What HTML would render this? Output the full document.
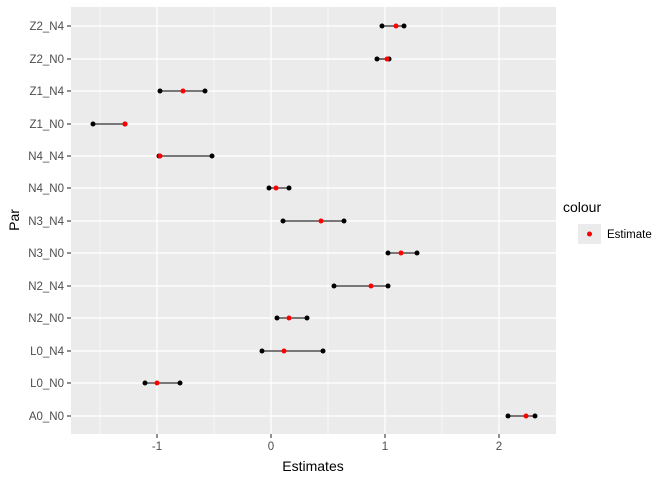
<!DOCTYPE html>
<html><head><style>body{margin:0;background:#fff}svg{display:block}text{font-family:"Liberation Sans",sans-serif}</style></head><body>
<svg width="672" height="480" xmlns="http://www.w3.org/2000/svg">
<rect x="71" y="7" width="485" height="427" fill="#ebebeb"/>
<g stroke="#fff" stroke-width="0.6">
<line x1="100" y1="7" x2="100" y2="434"/><line x1="214" y1="7" x2="214" y2="434"/><line x1="328" y1="7" x2="328" y2="434"/><line x1="442" y1="7" x2="442" y2="434"/>
</g>
<g stroke="#fff" stroke-width="1.2">
<line x1="157" y1="7" x2="157" y2="434"/><line x1="271" y1="7" x2="271" y2="434"/><line x1="385" y1="7" x2="385" y2="434"/><line x1="499" y1="7" x2="499" y2="434"/>
<line x1="71" y1="26" x2="556" y2="26"/><line x1="71" y1="59" x2="556" y2="59"/><line x1="71" y1="91" x2="556" y2="91"/><line x1="71" y1="124" x2="556" y2="124"/><line x1="71" y1="156" x2="556" y2="156"/><line x1="71" y1="188" x2="556" y2="188"/><line x1="71" y1="221" x2="556" y2="221"/><line x1="71" y1="253" x2="556" y2="253"/><line x1="71" y1="286" x2="556" y2="286"/><line x1="71" y1="318" x2="556" y2="318"/><line x1="71" y1="351" x2="556" y2="351"/><line x1="71" y1="383" x2="556" y2="383"/><line x1="71" y1="416" x2="556" y2="416"/>
</g>
<g stroke="#000" stroke-width="1.1">
<line x1="382" y1="26" x2="404" y2="26"/><line x1="377" y1="59" x2="389" y2="59"/><line x1="160" y1="91" x2="205" y2="91"/><line x1="93" y1="124" x2="125" y2="124"/><line x1="159" y1="156" x2="212" y2="156"/><line x1="269" y1="188" x2="289" y2="188"/><line x1="283" y1="221" x2="344" y2="221"/><line x1="388" y1="253" x2="417" y2="253"/><line x1="334" y1="286" x2="388" y2="286"/><line x1="277" y1="318" x2="307" y2="318"/><line x1="262" y1="351" x2="323" y2="351"/><line x1="145" y1="383" x2="180" y2="383"/><line x1="508" y1="416" x2="535" y2="416"/>
</g>
<g fill="#000">
<circle cx="382" cy="26" r="2.5"/><circle cx="404" cy="26" r="2.5"/><circle cx="377" cy="59" r="2.5"/><circle cx="389" cy="59" r="2.5"/><circle cx="160" cy="91" r="2.5"/><circle cx="205" cy="91" r="2.5"/><circle cx="93" cy="124" r="2.5"/><circle cx="125" cy="124" r="2.5"/><circle cx="159" cy="156" r="2.5"/><circle cx="212" cy="156" r="2.5"/><circle cx="269" cy="188" r="2.5"/><circle cx="289" cy="188" r="2.5"/><circle cx="283" cy="221" r="2.5"/><circle cx="344" cy="221" r="2.5"/><circle cx="388" cy="253" r="2.5"/><circle cx="417" cy="253" r="2.5"/><circle cx="334" cy="286" r="2.5"/><circle cx="388" cy="286" r="2.5"/><circle cx="277" cy="318" r="2.5"/><circle cx="307" cy="318" r="2.5"/><circle cx="262" cy="351" r="2.5"/><circle cx="323" cy="351" r="2.5"/><circle cx="145" cy="383" r="2.5"/><circle cx="180" cy="383" r="2.5"/><circle cx="508" cy="416" r="2.5"/><circle cx="535" cy="416" r="2.5"/>
</g>
<g fill="#f00">
<circle cx="396" cy="26" r="2.5"/><circle cx="387" cy="59" r="2.5"/><circle cx="183" cy="91" r="2.5"/><circle cx="125" cy="124" r="2.5"/><circle cx="160" cy="156" r="2.5"/><circle cx="276" cy="188" r="2.5"/><circle cx="321" cy="221" r="2.5"/><circle cx="401" cy="253" r="2.5"/><circle cx="371" cy="286" r="2.5"/><circle cx="289" cy="318" r="2.5"/><circle cx="284" cy="351" r="2.5"/><circle cx="157" cy="383" r="2.5"/><circle cx="526" cy="416" r="2.5"/>
</g>
<g stroke="#333" stroke-width="1.1">
<line x1="67" y1="26" x2="71" y2="26"/><line x1="67" y1="59" x2="71" y2="59"/><line x1="67" y1="91" x2="71" y2="91"/><line x1="67" y1="124" x2="71" y2="124"/><line x1="67" y1="156" x2="71" y2="156"/><line x1="67" y1="188" x2="71" y2="188"/><line x1="67" y1="221" x2="71" y2="221"/><line x1="67" y1="253" x2="71" y2="253"/><line x1="67" y1="286" x2="71" y2="286"/><line x1="67" y1="318" x2="71" y2="318"/><line x1="67" y1="351" x2="71" y2="351"/><line x1="67" y1="383" x2="71" y2="383"/><line x1="67" y1="416" x2="71" y2="416"/>
<line x1="157" y1="434" x2="157" y2="438"/><line x1="271" y1="434" x2="271" y2="438"/><line x1="385" y1="434" x2="385" y2="438"/><line x1="499" y1="434" x2="499" y2="438"/>
</g>
<g font-size="11.5" fill="#4d4d4d" text-anchor="end">
<text x="64" y="30">Z2_N4</text><text x="64" y="63">Z2_N0</text><text x="64" y="95">Z1_N4</text><text x="64" y="128">Z1_N0</text><text x="64" y="160">N4_N4</text><text x="64" y="192">N4_N0</text><text x="64" y="225">N3_N4</text><text x="64" y="257">N3_N0</text><text x="64" y="290">N2_N4</text><text x="64" y="322">N2_N0</text><text x="64" y="355">L0_N4</text><text x="64" y="387">L0_N0</text><text x="64" y="420">A0_N0</text>
</g>
<g font-size="11.5" fill="#4d4d4d" text-anchor="middle">
<text x="157" y="450">-1</text><text x="271" y="450">0</text><text x="385" y="450">1</text><text x="499" y="450">2</text>
</g>
<text x="313" y="471" font-size="14" text-anchor="middle">Estimates</text>
<text transform="translate(19,220) rotate(-90)" font-size="14" text-anchor="middle">Par</text>
<text x="563" y="212" font-size="14">colour</text>
<rect x="578" y="224" width="23" height="20" fill="#ebebeb"/>
<circle cx="589.5" cy="234" r="2.5" fill="#f00"/>
<text x="607" y="238" font-size="11.5">Estimate</text>
</svg>
</body></html>
